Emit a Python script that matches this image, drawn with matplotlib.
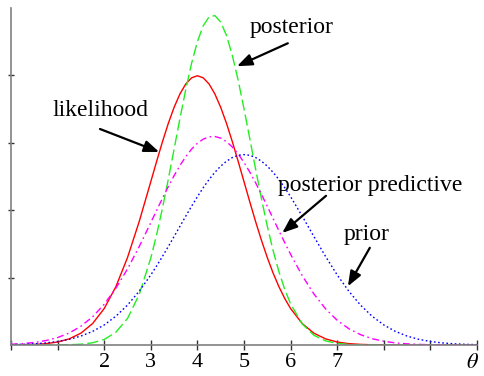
# -*- coding: utf-8 -*-
"""
plot.py
=======
Prior, likelihood, posterior and posterior predictive densities
for a normal model, with arrow labels. Saved as out.png.
"""

import numpy as np
import matplotlib
matplotlib.use("Agg")
import matplotlib.pyplot as plt

# =========================
#  DATA
# =========================
# theta grid: 0.25 steps in the tails, 0.125 steps around the peaks
theta = np.concatenate([
    np.arange(0, 2.8, 0.25),
    np.arange(3.0, 6.01, 0.125),
    np.arange(6.25, 10.01, 0.25),
])

likelihood = [
    0.0001, 0.0004, 0.0009, 0.0020, 0.0044, 0.0091, 0.0175, 0.0317, 0.0540,
    0.0863, 0.1295, 0.1826,
    0.2420, 0.2720, 0.3011, 0.3282, 0.3521, 0.3719, 0.3867, 0.3958, 0.3989,
    0.3958, 0.3867, 0.3719, 0.3521, 0.3282, 0.3011, 0.2720, 0.2420, 0.2119,
    0.1826, 0.1550, 0.1295, 0.1065, 0.0863, 0.0688, 0.0540,
    0.0317, 0.0175, 0.0091, 0.0044, 0.0020, 0.0009, 0.0004, 0.0001, 0.0,
    0.0, 0.0, 0.0, 0.0, 0.0, 0.0, 0.0,
]

prior = [
    0.0005, 0.0010, 0.0018, 0.0031, 0.0052, 0.0084, 0.0132, 0.0201, 0.0297,
    0.0426, 0.0591, 0.0796,
    0.1038, 0.1171, 0.1312, 0.1458, 0.1607, 0.1758, 0.1909, 0.2056, 0.2197,
    0.2330, 0.2451, 0.2558, 0.2650, 0.2723, 0.2777, 0.2810, 0.2821, 0.2810,
    0.2777, 0.2723, 0.2650, 0.2558, 0.2451, 0.2330, 0.2197,
    0.1909, 0.1607, 0.1312, 0.1038, 0.0796, 0.0591, 0.0426, 0.0297, 0.0201,
    0.0132, 0.0084, 0.0052, 0.0031, 0.0018, 0.0010, 0.0005,
]

posterior = [
    0.0, 0.0, 0.0, 0.0, 0.0001, 0.0004, 0.0012, 0.0033, 0.0082, 0.0189,
    0.0393, 0.0746,
    0.1288, 0.1634, 0.2026, 0.2454, 0.2903, 0.3354, 0.3785, 0.4174, 0.4495,
    0.4730, 0.4861, 0.4880, 0.4785, 0.4584, 0.4289, 0.3921, 0.3501, 0.3054,
    0.2602, 0.2165, 0.1760, 0.1398, 0.1085, 0.0822, 0.0608,
    0.0311, 0.0144, 0.0061, 0.0024, 0.0008, 0.0003, 0.0001, 0.0, 0.0, 0.0,
    0.0, 0.0, 0.0, 0.0, 0.0, 0.0,
]

predictive = [
    0.0011, 0.0021, 0.0038, 0.0066, 0.0110, 0.0178, 0.0278, 0.0417, 0.0603,
    0.0841, 0.1127, 0.1457,
    0.1813, 0.1994, 0.2173, 0.2346, 0.2509, 0.2658, 0.2790, 0.2902, 0.2989,
    0.3050, 0.3084, 0.3089, 0.3065, 0.3012, 0.2933, 0.2830, 0.2704, 0.2561,
    0.2402, 0.2232, 0.2054, 0.1873, 0.1692, 0.1515, 0.1343,
    0.1027, 0.0756, 0.0536, 0.0366, 0.0241, 0.0153, 0.0093, 0.0055, 0.0031,
    0.0017, 0.0009, 0.0004, 0.0002, 0.0001, 0.0, 0.0,
]

x_ticks = list(range(0, 11))
x_labels = ["", "", "2", "3", "4", "5", "6", "7", "", "", ""]
y_ticks = [0.1, 0.2, 0.3, 0.4]

# label text, text position, arrow tail, arrow tip
annotations = [
    ("posterior", (6.03, 0.470), (5.94, 0.447), (4.85, 0.413)),
    ("likelihood", (1.91, 0.347), (1.91, 0.320), (3.18, 0.286)),
    ("posterior predictive", (7.70, 0.237), (6.76, 0.221), (5.82, 0.166)),
    ("prior", (7.62, 0.163), (7.70, 0.144), (7.23, 0.087)),
]

# =========================
#  FIGURE
# =========================
plt.rcParams["font.family"] = ["Liberation Serif", "DejaVu Serif"]
plt.rcParams["mathtext.fontset"] = "stix"

fig = plt.figure(figsize=(4.85, 3.76), dpi=100)
ax = fig.add_axes([11 / 485, 31 / 376, 466 / 485, 337.5 / 376])

ax.plot(theta, likelihood, color="#ff0000", lw=1.0)
ax.plot(theta, posterior, color="#22ee22", lw=1.0, dashes=(8, 3))
ax.plot(theta, predictive, color="#ff00ff", lw=1.0, dashes=(5, 2.5, 1.2, 2.5))
ax.plot(theta, prior, color="#0000ff", lw=1.0, dashes=(1.2, 1.8))

ax.set_xlim(0, 10)
ax.set_ylim(0, 0.5)

# axes look: only left and bottom, grey lines, crossing ticks
for side in ("top", "right"):
    ax.spines[side].set_visible(False)
for side in ("left", "bottom"):
    ax.spines[side].set_color("#808080")
    ax.spines[side].set_linewidth(1.2)

ax.set_xticks(x_ticks)
ax.set_xticklabels(x_labels, fontsize=16)
ax.set_yticks(y_ticks)
ax.set_yticklabels([])
ax.tick_params(axis="x", direction="inout", length=7, width=1, color="#333333", pad=2)
ax.tick_params(axis="y", direction="inout", length=5, width=1, color="#333333")

ax.text(9.9, -0.028, r"$\theta$", fontsize=16, ha="center", va="center",
        clip_on=False)

for label, text_xy, tail, tip in annotations:
    ax.text(text_xy[0], text_xy[1], label, fontsize=17, ha="center", va="center")
    ax.annotate("", xy=tip, xytext=tail,
                arrowprops=dict(arrowstyle="-|>,head_length=0.9,head_width=0.35",
                                color="black", lw=1.6, shrinkA=0, shrinkB=0))

fig.savefig("out.png", dpi=100)
plt.close(fig)
